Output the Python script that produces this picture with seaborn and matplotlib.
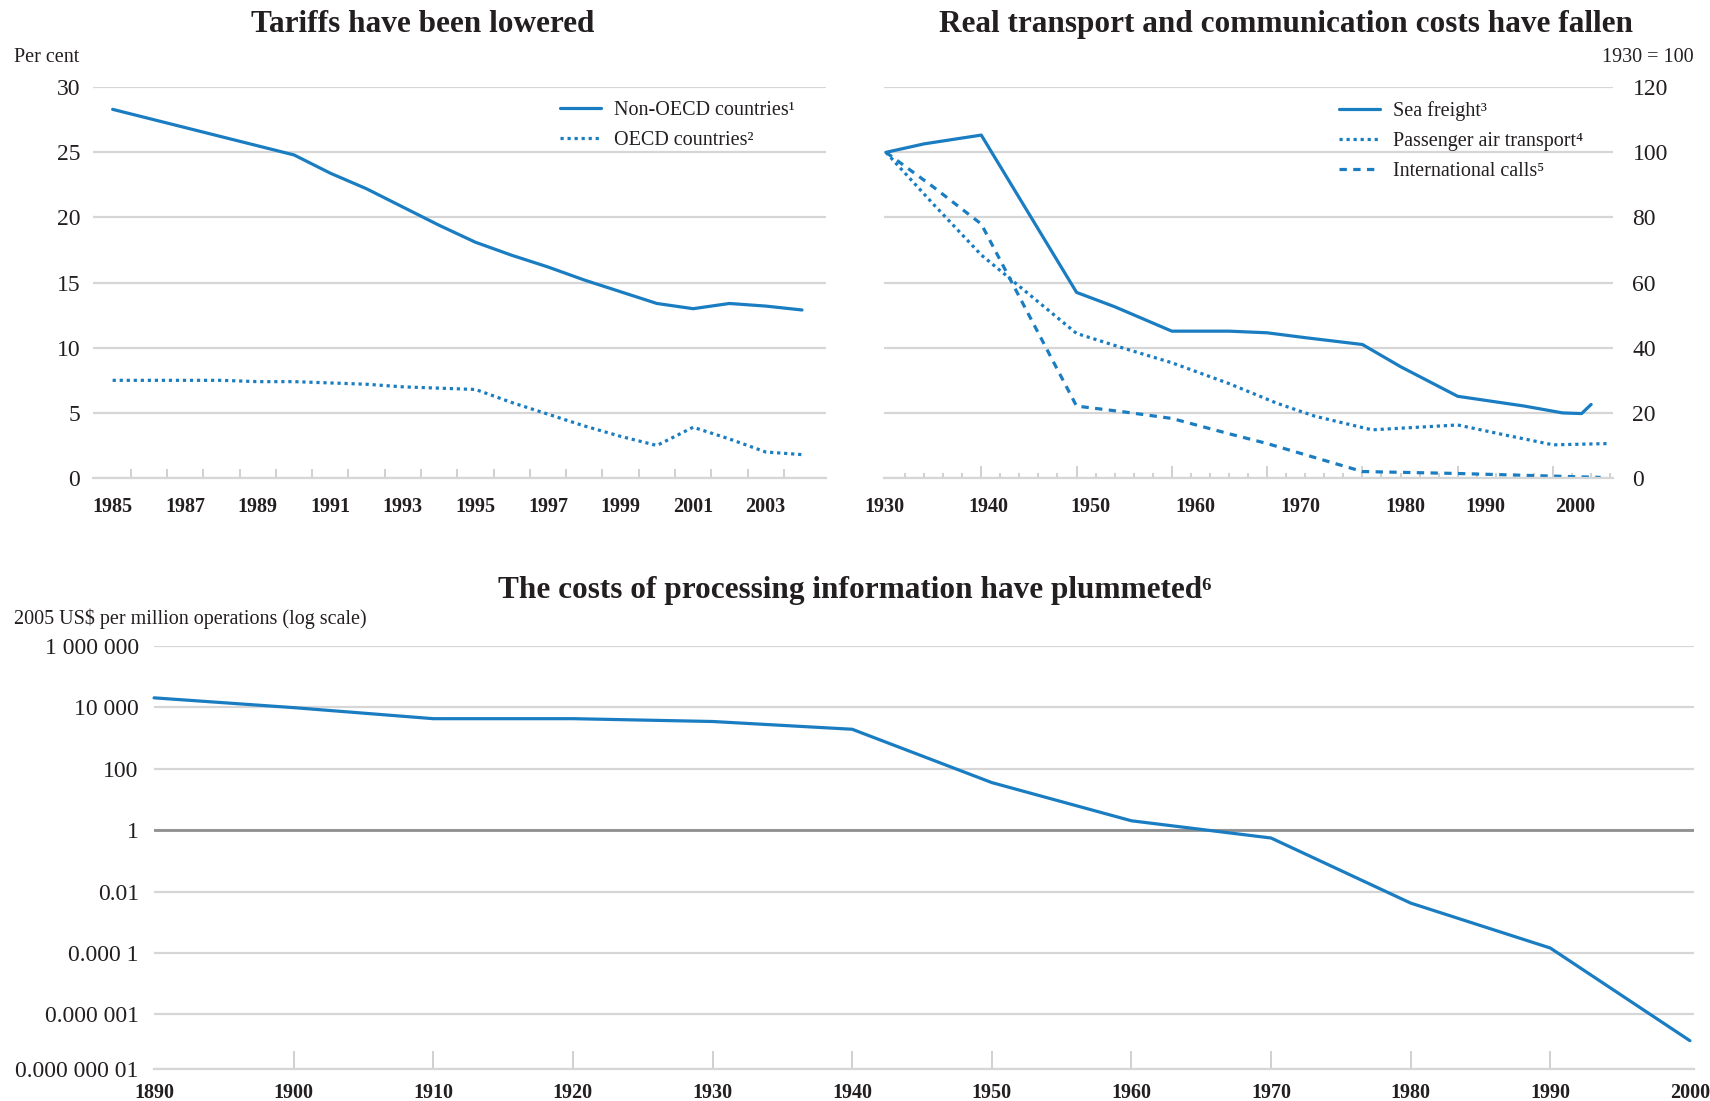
import numpy as np
import pandas as pd
import matplotlib
matplotlib.use("Agg")
import matplotlib.pyplot as plt
import seaborn as sns

# Tariffs (per cent)
tariff_years = list(range(1985, 2005))
non_oecd = [28.3, 27.6, 26.9, 26.2, 25.5, 24.8, 23.4, 22.2, 20.8, 19.4,
            18.1, 17.1, 16.2, 15.2, 14.3, 13.4, 13.0, 13.4, 13.2, 12.9]
oecd = [7.5, 7.5, 7.5, 7.5, 7.4, 7.4, 7.3, 7.2, 7.0, 6.9,
        6.8, 5.8, 4.9, 4.0, 3.2, 2.5, 3.9, 3.0, 2.0, 1.8]

# Transport and communication costs (1930 = 100)
sea_years = [1930, 1934, 1940, 1950, 1954, 1960, 1966, 1970, 1974, 1980, 1984, 1990, 1997, 2001, 2003, 2004]
sea_freight = [100, 102.6, 105.3, 57.0, 52.6, 45.1, 45.1, 44.6, 43.1, 41.0, 34.2, 25.1, 22.1, 20.0, 19.8, 22.6]
air_years = [1930, 1935, 1940, 1950, 1955, 1960, 1966, 1971, 1975, 1981, 1990, 1995, 2000, 2006]
air_transport = [100, 84, 68.5, 44.4, 39.8, 35.4, 29.0, 23.0, 19.0, 14.8, 16.3, 13.2, 10.2, 10.6]
call_years = [1930, 1935, 1940, 1950, 1955, 1960, 1966, 1970, 1980, 1990, 2000, 2005]
intl_calls = [100, 89.3, 78.0, 22.1, 20.3, 18.3, 13.6, 10.6, 2.0, 1.4, 0.6, 0.2]

# Processing information (2005 US$ per million operations)
comp_years = [1890, 1900, 1910, 1920, 1930, 1940, 1950, 1960, 1970, 1980, 1990, 2000]
comp_cost = [2.0e4, 9.6e3, 4.2e3, 4.2e3, 3.4e3, 1.9e3, 35, 2.0, 0.55, 4.2e-3, 1.45e-4, 1.4e-7]

tariff_labels = [str(y) for y in range(1985, 2004, 2)]
transport_labels = ["1930", "1940", "1950", "1960", "1970", "1980", "1990", "2000"]
transport_label_pos = [1929.8, 1940.7, 1951.5, 1962.5, 1973.5, 1984.5, 1992.9, 2002.3]
comp_labels = [str(y) for y in range(1890, 2001, 10)]
log_ticks = [1e6, 1e4, 1e2, 1, 1e-2, 1e-4, 1e-6, 10 ** -7.77]
log_labels = ["1 000 000", "10 000", "100", "1", "0.01", "0.000 1", "0.000 001", "0.000 000 01"]

sns.set_theme(style="white")
plt.rcParams['font.family'] = ['Liberation Serif', 'DejaVu Serif']
plt.rcParams['text.color'] = '#231f20'
plt.rcParams['xtick.color'] = '#c8c8c8'
plt.rcParams['ytick.color'] = '#c8c8c8'

BLUE = '#1a7dc2'
GRID = '#d6d6d6'
INK = '#231f20'
DOT = (0, (1, 1.2))
DASH = (0, (2.3, 2.0))

fig = plt.figure(figsize=(17.1, 11.01), dpi=100)
ax1 = fig.add_axes([0.0542, 0.5658, 0.4286, 0.3550])
ax2 = fig.add_axes([0.5170, 0.5658, 0.4263, 0.3550])
ax3 = fig.add_axes([0.0901, 0.0292, 0.9006, 0.3844])


def base_style(ax):
    for s in ['top', 'right', 'left']:
        ax.spines[s].set_visible(False)
    ax.spines['bottom'].set_color(GRID)
    ax.spines['bottom'].set_linewidth(1.6)
    ax.grid(axis='y', color=GRID, linewidth=1.6)
    ax.grid(axis='x', visible=False)
    ax.set_xlabel('')
    ax.set_ylabel('')
    ax.tick_params(axis='y', length=0, labelsize=17, labelcolor=INK)
    ax.tick_params(axis='x', which='both', direction='in', bottom=True,
                   labelcolor=INK, labelsize=14.5)


def legend_at(ax, x_px):
    ax.legend(loc='upper left', bbox_to_anchor=(x_px / 1710, 1 - 101 / 1101),
              bbox_transform=fig.transFigure, frameon=False, fontsize=14.5,
              handlelength=2.05, handletextpad=0.65, labelspacing=0.55,
              borderpad=0, borderaxespad=0)


# --- Tariffs ---
df_t = pd.DataFrame({'year': tariff_years, 'non': non_oecd, 'oecd': oecd})
sns.lineplot(data=df_t, x='year', y='non', ax=ax1, color=BLUE, lw=2.3,
             label='Non-OECD countries¹', clip_on=False)
sns.lineplot(data=df_t, x='year', y='oecd', ax=ax1, color=BLUE, lw=2.3,
             linestyle=DOT, label='OECD countries²', clip_on=False)
ax1.set_xlim(1984.45, 2004.65)
ax1.set_ylim(0, 30)
ax1.set_yticks(range(0, 31, 5))
ax1.set_xticks(range(1985, 2004, 2), tariff_labels)
ax1.set_xticks(np.arange(1985.5, 2004, 1), minor=True)
base_style(ax1)
ax1.tick_params(axis='x', which='major', length=0, pad=14)
ax1.tick_params(axis='x', which='minor', length=6.7, width=1.2)
ax1.tick_params(axis='y', pad=9)
for lab in ax1.get_xticklabels():
    lab.set_fontweight('bold')
legend_at(ax1, 559.5)

# --- Transport costs ---
sns.lineplot(x=sea_years, y=sea_freight, ax=ax2, color=BLUE, lw=2.3,
             label='Sea freight³', clip_on=False)
sns.lineplot(x=air_years, y=air_transport, ax=ax2, color=BLUE, lw=2.3,
             linestyle=DOT, label='Passenger air transport⁴', clip_on=False)
sns.lineplot(x=call_years, y=intl_calls, ax=ax2, color=BLUE, lw=2.3,
             linestyle=DASH, label='International calls⁵', clip_on=False)
ax2.set_xlim(1929.95, 2006.3)
ax2.set_ylim(0, 120)
ax2.set_yticks(range(0, 121, 20))
ax2.yaxis.tick_right()
ax2.set_xticks(transport_label_pos, transport_labels)
minor = [y for y in range(1932, 2007, 2) if y % 10 != 0]
ax2.set_xticks(minor, minor=True)
base_style(ax2)
ax2.tick_params(axis='x', which='major', length=0, pad=14)
ax2.tick_params(axis='x', which='minor', length=3.8, width=1.2)
ax2.tick_params(axis='y', pad=14)
for lab in ax2.get_xticklabels():
    lab.set_fontweight('bold')
sec = ax2.secondary_xaxis('bottom')
sec.set_xticks(range(1940, 2001, 10), [''] * 7)
sec.tick_params(axis='x', direction='in', bottom=True, length=8.4, width=1.2, color='#c8c8c8')
sec.spines['bottom'].set_visible(False)
legend_at(ax2, 1339)

# --- Processing costs ---
sns.lineplot(x=comp_years, y=comp_cost, ax=ax3, color=BLUE, lw=2.3, clip_on=False)
ax3.set_yscale('log')
ax3.set_xlim(1890, 2000.3)
ax3.set_ylim(10 ** -7.77, 1e6)
ax3.set_yticks(log_ticks, log_labels)
ax3.yaxis.set_minor_locator(matplotlib.ticker.NullLocator())
ax3.xaxis.remove_overlapping_locs = False
ax3.set_xticks(range(1890, 2001, 10), comp_labels)
ax3.set_xticks(range(1900, 2000, 10), minor=True)
base_style(ax3)
ax3.tick_params(axis='x', which='major', length=0, pad=10)
ax3.tick_params(axis='x', which='minor', length=13, width=1.2)
ax3.tick_params(axis='y', pad=11)
for lab in ax3.get_xticklabels():
    lab.set_fontweight('bold')
ax3.axhline(1, color='#8f8f8f', lw=2.0, zorder=1.5)

# --- Titles and unit labels ---
fig.text(0.247, 0.978, 'Tariffs have been lowered', ha='center', va='center',
         fontsize=22.5, fontweight='bold')
fig.text(0.752, 0.978, 'Real transport and communication costs have fallen',
         ha='center', va='center', fontsize=22.5, fontweight='bold')
fig.text(0.5, 0.464, 'The costs of processing information have plummeted⁶',
         ha='center', va='center', fontsize=22.5, fontweight='bold')
fig.text(0.008, 0.9475, 'Per cent', ha='left', va='center', fontsize=14.5)
fig.text(0.9906, 0.9475, '1930 = 100', ha='right', va='center', fontsize=14.5)
fig.text(0.008, 0.438, '2005 US$ per million operations (log scale)',
         ha='left', va='center', fontsize=14.5)

fig.savefig('out.png', dpi=100)
